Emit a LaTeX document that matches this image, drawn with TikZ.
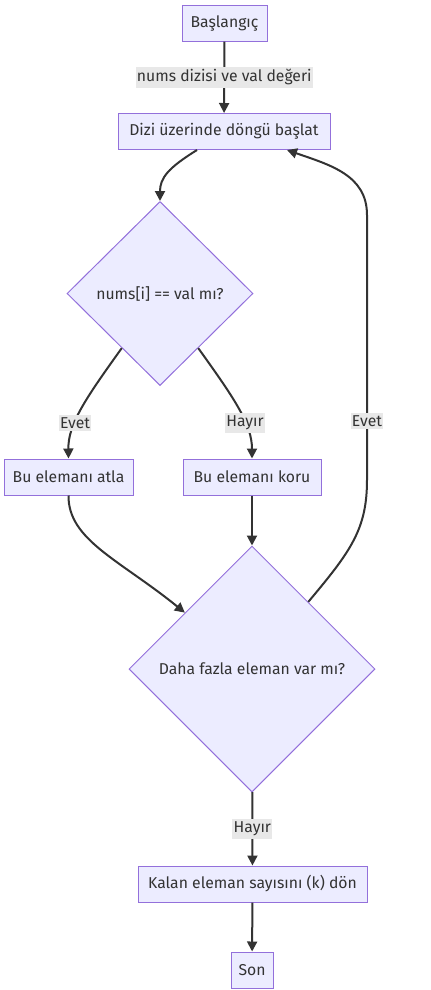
\documentclass[tikz,border=0pt]{standalone}
\usepackage{fontspec}
\setmainfont{Fira Sans}
\usetikzlibrary{shapes.geometric,arrows.meta}
\definecolor{nodefill}{HTML}{ECECFF}
\definecolor{nodeline}{HTML}{9370DB}
\definecolor{edgeline}{HTML}{333333}
\definecolor{lblfill}{HTML}{E8E8E8}
\newcommand{\flowfont}{\fontsize{11.8}{13}\selectfont}
\tikzset{
  box/.style={draw=nodeline, fill=nodefill, line width=0.75pt, minimum height=27pt,
    inner xsep=0pt, text=edgeline, font=\flowfont},
  cond/.style={diamond, aspect=1, draw=nodeline, fill=nodefill, line width=0.75pt,
    inner sep=0pt, text=edgeline, font=\flowfont},
  lbl/.style={fill=lblfill, inner xsep=1pt, inner ysep=2pt, text=edgeline, font=\flowfont},
  flow/.style={draw=edgeline, line width=1.5pt, -{Triangle[length=7.5pt,width=7.5pt]}}
}
\begin{document}
\begin{tikzpicture}[x=0.75pt,y=-0.75pt]
  \useasboundingbox (0,0) rectangle (431,990);
  \path
    (224.5,23) node[box, minimum width=63.75pt] (start){Başlangıç}
    (224,131.5) node[box, minimum width=159pt] (loop){Dizi üzerinde döngü başlat}
    (160,293.5) node[cond, minimum width=139.5pt, minimum height=138pt] (check){nums[i] == val mı?}
    (68.5,477) node[box, minimum width=96.75pt] (skip){Bu elemanı atla}
    (252,477) node[box, minimum width=103.5pt] (keep){Bu elemanı koru}
    (252,669) node[cond, minimum width=184.5pt, minimum height=184.5pt] (more){Daha fazla eleman var mı?}
    (252.5,884) node[box, minimum width=171.75pt] (count){Kalan eleman sayısını (k) dön}
    (252,970) node[box, minimum width=31.5pt] (stop){Son};
  \begin{scope}[flow]
    \draw (start) -- node[lbl]{nums dizisi ve val değeri} (loop);
    \draw ([xshift=-20.25pt]loop.south) .. controls (168,168) and (160,178) .. (check.north);
    \draw (check.235) .. controls (86,398) and (68,424) .. node[lbl, pos=0.64]{Evet} (skip.north);
    \draw (check.305) .. controls (234,398) and (252,424) .. node[lbl, pos=0.64]{Hayır} (keep.north);
    \draw (skip.south) .. controls (68,540) and (120,560) .. (more.140);
    \draw (keep) -- (more.north);
    \draw (more.50) .. controls (350,552) and (367,530) .. (367,480)
      -- node[lbl, pos=0.223]{Evet} (367,215) .. controls (367,175) and (330,165) .. ([xshift=47.25pt]loop.south);
    \draw (more) -- node[lbl]{Hayır} (count);
    \draw (count) -- (stop);
  \end{scope}
\end{tikzpicture}
\end{document}
